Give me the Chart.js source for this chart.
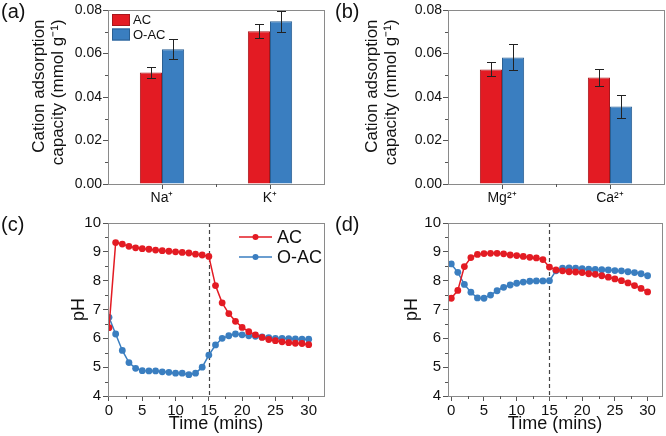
<!DOCTYPE html>
<html><head><meta charset="utf-8">
<script src="https://cdn.jsdelivr.net/npm/chart.js@4/dist/chart.umd.min.js"></script>
<style>
html,body{margin:0;padding:0;background:#fff;}
#wrap{position:relative;width:666px;height:436px;overflow:hidden;font-family:"Liberation Sans",Arial,sans-serif;}
canvas{position:absolute;left:0;top:0;}
.lbl{position:absolute;font-size:20px;line-height:20px;color:#111;}
</style></head><body>
<div id="wrap">
<canvas id="ca" width="666" height="436"></canvas>
<canvas id="cb" width="666" height="436"></canvas>
<canvas id="cc" width="666" height="436"></canvas>
<canvas id="cd" width="666" height="436"></canvas>
<div class="lbl" style="left:1px;top:1px">(a)</div>
<div class="lbl" style="left:335px;top:1px">(b)</div>
<div class="lbl" style="left:1px;top:214px">(c)</div>
<div class="lbl" style="left:335px;top:214px">(d)</div>
</div>
<script>
// ---------- data ----------
const seriesNames = ['AC', 'O-AC'];
const monoCations = ['Na\u207A', 'K\u207A'];
const diCations = ['Mg\u00B2\u207A', 'Ca\u00B2\u207A'];
const monoAC = [0.0513, 0.0702];
const monoACErr = [0.0027, 0.0033];
const monoOAC = [0.0619, 0.0748];
const monoOACErr = [0.0046, 0.0047];
const diAC = [0.0527, 0.0490];
const diACErr = [0.0032, 0.0040];
const diOAC = [0.0582, 0.0356];
const diOACErr = [0.0060, 0.0053];
const capTicks = [0, 0.02, 0.04, 0.06, 0.08];
const capTitle = ['Cation adsorption  ', 'capacity (mmol g\u207B\u00B9)  '];

const timeMins = [0,1,2,3,4,5,6,7,8,9,10,11,12,13,14,15,16,17,18,19,20,21,22,23,24,25,26,27,28,29,30];
const phMonoAC = [6.37,9.32,9.27,9.19,9.14,9.11,9.09,9.06,9.04,9.02,9.00,8.98,8.96,8.92,8.89,8.84,7.83,7.23,6.86,6.59,6.38,6.23,6.12,6.03,5.96,5.92,5.88,5.85,5.83,5.82,5.78];
const phMonoOAC = [6.73,6.15,5.58,5.16,4.96,4.88,4.87,4.87,4.84,4.82,4.79,4.79,4.74,4.79,5.00,5.42,5.77,6.00,6.09,6.15,6.12,6.09,6.07,6.05,6.02,6.00,6.00,5.99,5.98,5.97,5.97];
const phDiAC = [7.39,7.66,8.49,8.80,8.91,8.94,8.95,8.95,8.93,8.89,8.87,8.84,8.81,8.79,8.73,8.47,8.37,8.34,8.31,8.30,8.28,8.24,8.22,8.17,8.12,8.06,8.00,7.92,7.83,7.73,7.61];
const phDiOAC = [8.58,8.29,7.87,7.60,7.40,7.39,7.50,7.65,7.77,7.85,7.91,7.95,7.98,7.99,7.99,8.00,8.34,8.43,8.44,8.43,8.42,8.40,8.39,8.38,8.37,8.35,8.34,8.31,8.28,8.24,8.17];
const phTicks = [4,5,6,7,8,9,10];
const timeTicks = [0,5,10,15,20,25,30];
const switchTime = 15;

// ---------- style ----------
const RED = '#e31b23', RED_EDGE = '#a8161b';
const BLUE = '#3a7ec0', BLUE_EDGE = '#2a5f92';
const FRAME = '#8a8a8a', TICK = '#555';
const FONT = '"Liberation Sans", Arial, sans-serif';
const mids = a => a.slice(1).map((v, i) => (v + a[i]) / 2);

// ---------- plugins ----------
const errorBars = {
  id: 'errorBars',
  afterDatasetsDraw(chart) {
    const {ctx} = chart, y = chart.scales.y;
    ctx.save();
    ctx.strokeStyle = '#222'; ctx.lineWidth = 1;
    chart.data.datasets.forEach((ds, di) => {
      if (!ds.errors) return;
      chart.getDatasetMeta(di).data.forEach((el, i) => {
        const v = ds.data[i], e = ds.errors[i];
        const t = Math.round(y.getPixelForValue(v + e)) + 0.5;
        const b = Math.round(y.getPixelForValue(v - e)) + 0.5;
        const x = Math.round(el.x) + 0.5;
        ctx.beginPath();
        ctx.moveTo(x, t); ctx.lineTo(x, b);
        ctx.moveTo(x - 4.5, t); ctx.lineTo(x + 4.5, t);
        ctx.moveTo(x - 4.5, b); ctx.lineTo(x + 4.5, b);
        ctx.stroke();
      });
    });
    ctx.restore();
  }
};
const divider = {
  id: 'divider',
  beforeDatasetsDraw(chart, args, opts) {
    if (opts.value == null) return;
    const {ctx, chartArea: a} = chart;
    const x = Math.round(chart.scales.x.getPixelForValue(opts.value)) + 0.5;
    ctx.save();
    ctx.strokeStyle = '#444'; ctx.lineWidth = 1.2; ctx.setLineDash([4, 3]);
    ctx.beginPath(); ctx.moveTo(x, a.top); ctx.lineTo(x, a.bottom); ctx.stroke();
    ctx.restore();
  }
};
const frame = {
  id: 'frame',
  afterDraw(chart, args, opts) {
    const {ctx, chartArea: a} = chart;
    ctx.save();
    ctx.strokeStyle = FRAME; ctx.lineWidth = 1;
    ctx.strokeRect(Math.round(a.left) + 0.5, Math.round(a.top) + 0.5, Math.round(a.right - a.left), Math.round(a.bottom - a.top));
    ctx.strokeStyle = TICK;
    ctx.beginPath();
    (opts.minorY || []).forEach(v => {
      const p = Math.round(chart.scales.y.getPixelForValue(v)) + 0.5;
      ctx.moveTo(a.left - 3, p); ctx.lineTo(a.left, p);
    });
    (opts.minorX || []).forEach(v => {
      const p = Math.round(chart.scales.x.getPixelForValue(v)) + 0.5;
      ctx.moveTo(p, a.bottom); ctx.lineTo(p, a.bottom + 3);
    });
    ctx.stroke();
    ctx.restore();
  }
};
const innerLegend = {
  id: 'innerLegend',
  afterDraw(chart, args, opts) {
    if (!opts.kind) return;
    const {ctx, chartArea: a} = chart;
    ctx.save();
    ctx.textBaseline = 'middle';
    chart.data.datasets.forEach((ds, i) => {
      if (opts.kind === 'box') {
        const x = a.left + 4, y = a.top + 4 + i * 14.5;
        ctx.fillStyle = ds.backgroundColor; ctx.fillRect(x, y, 18, 12);
        ctx.strokeStyle = ds.borderColor; ctx.lineWidth = 1; ctx.strokeRect(x + 0.5, y + 0.5, 17, 11);
        ctx.fillStyle = '#111'; ctx.font = '13px ' + FONT;
        ctx.fillText(ds.label, x + 21, y + 6.5);
      } else {
        const x = a.right - 85, y = a.top + 14 + i * 20;
        ctx.strokeStyle = ds.borderColor; ctx.lineWidth = 1.6;
        ctx.beginPath(); ctx.moveTo(x, y); ctx.lineTo(x + 33, y); ctx.stroke();
        ctx.fillStyle = ds.borderColor;
        ctx.beginPath(); ctx.arc(x + 16.5, y, 3, 0, Math.PI * 2); ctx.fill();
        ctx.fillStyle = '#111'; ctx.font = '18px ' + FONT;
        ctx.fillText(ds.label, x + 38, y + 1);
      }
    });
    ctx.restore();
  }
};

function axisGrid(len) {
  return {drawOnChartArea: false, drawTicks: true, tickLength: len, color: TICK, lineWidth: 1};
}

function barChart(id, cats, ac, acErr, oac, oacErr, padLeft, yWidth, legend) {
  return new Chart(document.getElementById(id), {
    type: 'bar',
    data: {
      labels: cats,
      datasets: [
        {label: seriesNames[0], data: ac, errors: acErr, backgroundColor: RED, borderColor: RED_EDGE, borderWidth: 1, barPercentage: 1, categoryPercentage: 0.41},
        {label: seriesNames[1], data: oac, errors: oacErr, backgroundColor: BLUE, borderColor: BLUE_EDGE, borderWidth: 1, barPercentage: 1, categoryPercentage: 0.41}
      ]
    },
    options: {
      responsive: false, animation: false, devicePixelRatio: 1,
      layout: {padding: {left: padLeft, right: 666 - padLeft - yWidth - 216, top: 10, bottom: 218}},
      plugins: {legend: {display: false}, tooltip: {enabled: false},
        innerLegend: {kind: legend ? 'box' : null},
        frame: {minorY: mids(capTicks), minorX: [0.5]}},
      scales: {
        x: {
          grid: Object.assign(axisGrid(5), {offset: false}),
          border: {display: false},
          ticks: {color: '#111', font: {family: FONT, size: 14}, padding: 1},
          afterFit: s => { s.height = 34; }
        },
        y: {
          min: 0, max: 0.08,
          afterBuildTicks: s => { s.ticks = capTicks.map(v => ({value: v})); },
          grid: axisGrid(5),
          border: {display: false},
          ticks: {color: '#111', font: {family: FONT, size: 14}, padding: 1, callback: v => v.toFixed(2)},
          title: {display: true, text: capTitle, align: 'end', color: '#111',
                  font: {family: FONT, size: 17, lineHeight: 1.1}, padding: {top: 30, bottom: 0}},
          afterFit: s => { s.width = yWidth; }
        }
      }
    },
    plugins: [errorBars, frame, innerLegend]
  });
}

function lineChart(id, acVals, oacVals, padLeft, yWidth, xmin, xmax, legend) {
  const mk = (label, data, c) => ({label, data: timeMins.map((t, i) => ({x: t, y: data[i]})),
    borderColor: c, backgroundColor: c, pointBackgroundColor: c, pointBorderWidth: 0,
    pointRadius: 3.4, borderWidth: 1.5, tension: 0});
  return new Chart(document.getElementById(id), {
    type: 'line',
    data: {datasets: [mk(seriesNames[0], acVals, RED), mk(seriesNames[1], oacVals, BLUE)]},
    options: {
      responsive: false, animation: false, devicePixelRatio: 1,
      layout: {padding: {left: padLeft, right: 666 - padLeft - yWidth - 216, top: 223, bottom: 0}},
      plugins: {legend: {display: false}, tooltip: {enabled: false},
        divider: {value: switchTime},
        innerLegend: {kind: legend ? 'line' : null},
        frame: {minorY: mids(phTicks), minorX: mids(timeTicks)}},
      scales: {
        x: {
          type: 'linear', min: xmin, max: xmax,
          afterBuildTicks: s => { s.ticks = timeTicks.map(v => ({value: v})); },
          grid: axisGrid(5),
          border: {display: false},
          ticks: {color: '#111', font: {family: FONT, size: 15}, padding: 1, maxRotation: 0},
          title: {display: true, text: 'Time (mins)', color: '#111', font: {family: FONT, size: 18}, padding: {top: 0, bottom: 1}},
          afterFit: s => { s.height = 40; }
        },
        y: {
          min: 4, max: 10,
          afterBuildTicks: s => { s.ticks = phTicks.map(v => ({value: v})); },
          grid: axisGrid(5),
          border: {display: false},
          ticks: {color: '#111', font: {family: FONT, size: 15}, padding: 2},
          title: {display: true, text: 'pH', color: '#111', font: {family: FONT, size: 18}, padding: {top: 68, bottom: 0}},
          afterFit: s => { s.width = yWidth; }
        }
      }
    },
    plugins: [divider, frame, innerLegend]
  });
}

barChart('ca', monoCations, monoAC, monoACErr, monoOAC, monoOACErr, 0, 108, true);
barChart('cb', diCations, diAC, diACErr, diOAC, diOACErr, 333, 115, false);
lineChart('cc', phMonoAC, phMonoOAC, 0, 108, -0.15, 32.3, true);
lineChart('cd', phDiAC, phDiOAC, 333, 115, -0.5, 32.2, false);
</script>
</body></html>
